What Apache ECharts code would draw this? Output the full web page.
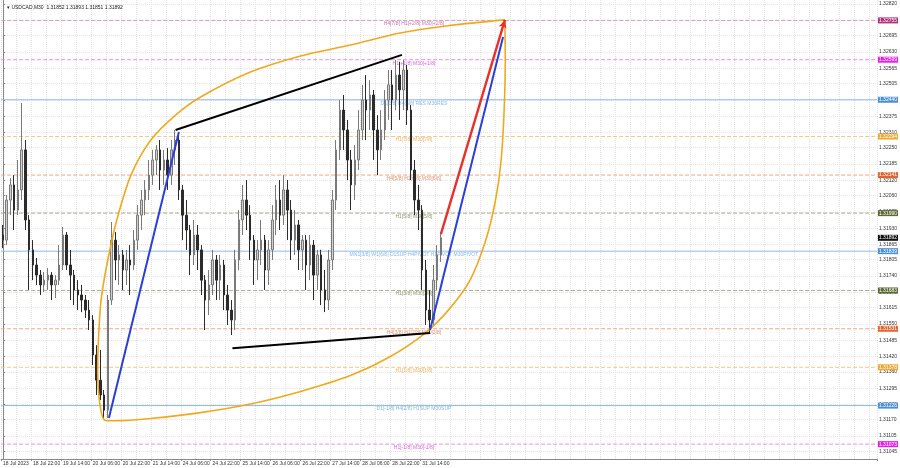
<!DOCTYPE html>
<html><head><meta charset="utf-8">
<script src="https://cdn.jsdelivr.net/npm/echarts@6.0.0/dist/echarts.min.js"></script>
<style>html,body{margin:0;padding:0;background:#fff}#c{width:900px;height:468px}</style>
</head><body><div id="c"></div>
<script>
// ---- data: 2-hour candles, USDCAD 18 Jul 2023 06:00 .. 31 Jul 2023 ----
const candleOpen = [
1.31903,1.31883,1.32042,1.32102,1.32002,1.32082,1.32241,1.31963,1.31844,1.31784,
1.31744,1.31705,1.31724,1.31744,1.31705,1.31724,1.31784,1.31903,1.31784,1.31744,
1.31685,1.31665,1.31645,1.31605,1.31566,1.31427,1.31327,1.31268,1.31208,1.31645,
1.31883,1.31804,1.31824,1.31764,1.31804,1.31784,1.31883,1.31982,1.32042,1.32082,
1.32141,1.32201,1.32241,1.32161,1.32201,1.32141,1.32241,1.32280,1.32082,1.31982,
1.31923,1.31824,1.31903,1.31844,1.31724,1.31645,1.31705,1.31804,1.31724,1.31784,
1.31665,1.31605,1.31566,1.31804,1.31963,1.32042,1.31982,1.31883,1.31804,1.31844,
1.31883,1.31764,1.31844,1.31963,1.32042,1.31982,1.32082,1.32002,1.31883,1.31943,
1.31844,1.31883,1.31784,1.31863,1.31744,1.31824,1.31685,1.31645,1.31804,1.32042,
1.32241,1.32399,1.32320,1.32201,1.32102,1.32201,1.32320,1.32439,1.32399,1.32459,
1.32320,1.32241,1.32320,1.32439,1.32499,1.32439,1.32538,1.32479,1.32558,1.32399,
1.32161,1.32042,1.32002,1.31764,1.31605,1.31566,1.31724,1.31824];
const candleClose = [
1.31883,1.32042,1.32102,1.32002,1.32082,1.32241,1.31963,1.31844,1.31784,1.31744,
1.31705,1.31724,1.31744,1.31705,1.31724,1.31784,1.31903,1.31784,1.31744,1.31685,
1.31665,1.31645,1.31605,1.31566,1.31427,1.31327,1.31268,1.31208,1.31645,1.31883,
1.31804,1.31824,1.31764,1.31804,1.31784,1.31883,1.31982,1.32042,1.32082,1.32141,
1.32201,1.32241,1.32161,1.32201,1.32141,1.32241,1.32280,1.32082,1.31982,1.31923,
1.31824,1.31903,1.31844,1.31724,1.31645,1.31705,1.31804,1.31724,1.31784,1.31665,
1.31605,1.31566,1.31804,1.31963,1.32042,1.31982,1.31883,1.31804,1.31844,1.31883,
1.31764,1.31844,1.31963,1.32042,1.31982,1.32082,1.32002,1.31883,1.31943,1.31844,
1.31883,1.31784,1.31863,1.31744,1.31824,1.31685,1.31645,1.31804,1.32042,1.32241,
1.32399,1.32320,1.32201,1.32102,1.32201,1.32320,1.32439,1.32399,1.32459,1.32320,
1.32241,1.32320,1.32439,1.32499,1.32439,1.32538,1.32479,1.32558,1.32399,1.32161,
1.32042,1.32002,1.31764,1.31605,1.31566,1.31724,1.31824,1.31892];
const candleLow = [
1.31851,1.31863,1.31982,1.31923,1.31982,1.32042,1.31923,1.31685,1.31724,1.31705,
1.31665,1.31677,1.31685,1.31645,1.31653,1.31705,1.31764,1.31764,1.31645,1.31625,
1.31605,1.31597,1.31574,1.31526,1.31387,1.31268,1.31248,1.31169,1.31177,1.31625,
1.31724,1.31705,1.31685,1.31705,1.31665,1.31764,1.31844,1.31923,1.31982,1.32042,
1.32102,1.32141,1.32082,1.32102,1.32082,1.32102,1.32181,1.32042,1.31883,1.31844,
1.31744,1.31784,1.31764,1.31665,1.31526,1.31585,1.31665,1.31645,1.31645,1.31605,
1.31546,1.31506,1.31526,1.31764,1.31903,1.31923,1.31804,1.31705,1.31724,1.31784,
1.31685,1.31705,1.31804,1.31903,1.31923,1.31943,1.31883,1.31804,1.31824,1.31764,
1.31764,1.31685,1.31724,1.31645,1.31685,1.31625,1.31597,1.31605,1.31764,1.32002,
1.32201,1.32241,1.32121,1.32002,1.32042,1.32161,1.32280,1.32280,1.32320,1.32201,
1.32141,1.32201,1.32280,1.32360,1.32320,1.32399,1.32360,1.32399,1.32340,1.32121,
1.31982,1.31923,1.31685,1.31546,1.31514,1.31546,1.31685,1.31796];
const candleHigh = [
1.31943,1.32062,1.32129,1.32141,1.32201,1.32427,1.32280,1.31982,1.31883,1.31812,
1.31764,1.31756,1.31772,1.31756,1.31744,1.31863,1.31935,1.31915,1.31844,1.31764,
1.31724,1.31705,1.31665,1.31645,1.31585,1.31466,1.31447,1.31288,1.31665,1.31955,
1.31915,1.31863,1.31844,1.31844,1.31863,1.31923,1.32022,1.32082,1.32121,1.32201,
1.32241,1.32260,1.32280,1.32241,1.32248,1.32280,1.32320,1.32300,1.32102,1.32042,
1.31943,1.31963,1.31943,1.31863,1.31744,1.31764,1.31844,1.31824,1.31824,1.31804,
1.31705,1.31645,1.31844,1.32002,1.32102,1.32121,1.32022,1.31903,1.31883,1.31963,
1.31903,1.31883,1.32022,1.32102,1.32121,1.32141,1.32121,1.32042,1.32002,1.31963,
1.31903,1.31903,1.31903,1.31883,1.31844,1.31844,1.31764,1.31844,1.32082,1.32280,
1.32439,1.32459,1.32360,1.32241,1.32260,1.32399,1.32499,1.32538,1.32518,1.32479,
1.32379,1.32399,1.32479,1.32558,1.32558,1.32598,1.32590,1.32598,1.32578,1.32419,
1.32201,1.32102,1.32022,1.31804,1.31685,1.31784,1.31863,1.31915];

const xTickLabels = ['18 Jul 2023','18 Jul 22:00','19 Jul 14:00','20 Jul 06:00','20 Jul 22:00','21 Jul 14:00','24 Jul 06:00','24 Jul 22:00','25 Jul 14:00','26 Jul 06:00','26 Jul 22:00','27 Jul 14:00','28 Jul 06:00','28 Jul 22:00','31 Jul 14:00'];
const yTickValues = [1.31045,1.31105,1.31170,1.31230,1.31295,1.31360,1.31420,1.31485,1.31550,1.31615,1.31675,1.31740,1.31805,1.31865,1.31930,1.31995,1.32060,1.32120,1.32185,1.32250,1.32310,1.32375,1.32440,1.32505,1.32565,1.32630,1.32695,1.32755,1.32820];

const levelPrices = [1.32755,1.32599,1.32440,1.32294,1.32141,1.31990,1.31839,1.31683,1.31531,1.31378,1.31226,1.31073];
const levelTexts = ['H4[7/8] H1[+2/8] M30[+2/8]','H1[+1/8] M30[+1/8]','D1[1/8] H4[6/8] RES M30RES','H1[7/8] M30[7/8]','H4[5/8] H1[6/8] M30[6/8]','H1[5/8] M30[5/8]','MN1[3/8] W1[6/8] D1SUP H4PIVOT H1PIVOT M30PIVOT','H1[3/8] M30[3/8]','H4[3/8] H1[2/8] M30[2/8]','H1[1/8] M30[1/8]','D1[-1/8] H4[2/8] H1SUP M30SUP','H1[-1/8] M30[-1/8]'];
const currentPrice = 1.31892;
const titleText = 'USDCAD,M30  1.31852 1.31893 1.31851 1.31892';

// trend lines in (bar index, price)
const trendBlackUpper = [[46.1,1.32320],[106.6,1.32618]];
const trendBlackLower = [[61.3,1.31454],[114.1,1.31514]];
const trendBlueFirst = [[28.3,1.31177],[47.0,1.32312]];
const trendBlueSecond = [[114.1,1.31526],[133.6,1.32689]];
const trendRed = [[117.0,1.31907],[134.1,1.32757]];
const orangeCurve = [[134.1,1.32757],[134.2,1.32598],[133.9,1.32399],[133.1,1.32201],[131.6,1.32042],[129.0,1.31883],[124.8,1.31724],[119.0,1.31605],[112.8,1.31514],[103.4,1.31420],[92.8,1.31345],[79.5,1.31282],[66.1,1.31232],[52.8,1.31198],[39.5,1.31175],[30.0,1.31166],[27.2,1.31168],[25.9,1.31230],[25.3,1.31367],[25.5,1.31486],[26.2,1.31645],[28.0,1.31804],[30.4,1.31963],[34.2,1.32141],[39.5,1.32280],[46.1,1.32379],[52.8,1.32451],[66.1,1.32550],[79.5,1.32614],[92.8,1.32657],[106.1,1.32705],[119.4,1.32735],[134.1,1.32757]];

// ---- layout / styles ----
const TOTAL_SLOTS = 234;
const LABEL_EVERY = 8;
const levelBox = ['#b1307e','#e81ee8','#4a90d9','#f0a830','#e2642e','#5a6b35','#4a90d9','#5a6b35','#e2642e','#f0a830','#4a90d9','#e81ee8'];
const levelTextColor = ['#c2489a','#d23ad2','#6aa6e0','#e6a040','#d8774a','#6f7d48','#6aa6e0','#6f7d48','#d8774a','#e6a040','#6aa6e0','#d23ad2'];
const levelLine = ['#d898c4','#e890e8','#8fbbe6','#f0c888','#eea888','#a8b088','#8fbbe6','#a8b088','#eea888','#f0c888','#8fbbe6','#e890e8'];
const levelSolid = [false,false,true,false,false,false,true,false,false,false,true,false];
const LABEL_SLOT = 109.8;
const X_MIN = -0.5, X_MAX = TOTAL_SLOTS - 0.5;

const categories = [];
for (let i = 0; i < TOTAL_SLOTS; i++) {
  const k = i / LABEL_EVERY;
  categories.push(i % LABEL_EVERY === 0 && k < xTickLabels.length ? xTickLabels[k] : '');
}
const candles = candleOpen.map((o, i) => [o, candleClose[i], candleLow[i], candleHigh[i]]);

const FONT = 'Liberation Sans';
const boxLabel = (txt, bg) => ({show: true, formatter: txt, distance: 1, backgroundColor: bg, color: '#fff', fontSize: 5, padding: [1, 1, 0, 1], fontFamily: FONT, align: 'left', verticalAlign: 'middle'});

const levelSeries = levelPrices.map((p, k) => ({
  type: 'line', xAxisIndex: 1, yAxisIndex: 0, silent: true, z: 3, symbol: 'none',
  data: [[X_MIN, p], [X_MAX, p]],
  lineStyle: {color: levelLine[k], width: 1, type: levelSolid[k] ? 'solid' : [4, 2]},
  endLabel: boxLabel(p.toFixed(5), levelBox[k])
}));
levelSeries.push({
  type: 'line', xAxisIndex: 1, yAxisIndex: 0, silent: true, z: 3, symbol: 'none',
  data: [[X_MIN, currentPrice], [X_MAX, currentPrice]],
  lineStyle: {opacity: 0, width: 0},
  endLabel: boxLabel(currentPrice.toFixed(5), '#111')
});

const chart = echarts.init(document.getElementById('c'), null, {renderer: 'canvas'});
chart.setOption({
  animation: false,
  backgroundColor: '#ffffff',
  textStyle: {fontFamily: FONT},
  title: {text: '\u25BE ' + titleText, left: 2, top: 0, textStyle: {fontSize: 5, fontWeight: 'normal', color: '#222', fontFamily: FONT}},
  grid: {left: 0, right: 22, top: 0, bottom: 9, containLabel: false, show: false},
  xAxis: [{
    type: 'category', data: categories, boundaryGap: true,
    axisLine: {show: true, lineStyle: {color: '#888', width: 1}},
    axisTick: {show: true, length: 2, lineStyle: {color: '#888'}, interval: (i) => i % LABEL_EVERY === 0 && i / LABEL_EVERY < xTickLabels.length},
    axisLabel: {show: true, interval: (i) => i % LABEL_EVERY === 0 && i / LABEL_EVERY < xTickLabels.length, fontSize: 5, color: '#333', align: 'left', margin: 2, fontFamily: FONT},
    splitLine: {show: true, interval: (i) => i % 4 === 0, lineStyle: {color: '#e2e2e2', type: [1, 1], width: 1}}
  }, {
    type: 'value', min: X_MIN, max: X_MAX, show: false
  }],
  yAxis: [{
    type: 'value', position: 'right', min: 1.31014, max: 1.32836, scale: true,
    axisLine: {show: true, lineStyle: {color: '#888', width: 1}},
    axisTick: {show: true, length: 2, customValues: yTickValues, lineStyle: {color: '#888'}},
    axisLabel: {show: true, customValues: yTickValues, formatter: (v) => v.toFixed(5), fontSize: 5, color: '#333', margin: 2, fontFamily: FONT},
    splitLine: {show: true, lineStyle: {color: '#e2e2e2', type: [1, 1], width: 1}}
  }],
  series: levelSeries.concat([
    {
      type: 'scatter', name: 'levelText', xAxisIndex: 1, yAxisIndex: 0, symbolSize: 0, silent: true, z: 3,
      data: levelPrices.map((p, k) => ({
        value: [LABEL_SLOT, p],
        label: {show: true, position: 'bottom', distance: 1, formatter: levelTexts[k], color: levelTextColor[k], fontSize: 5, fontFamily: FONT}
      }))
    },
    {
      type: 'candlestick', name: 'USDCAD', data: candles, z: 4, barWidth: 2,
      itemStyle: {color: '#cfcfcf', color0: '#2b2b2b', borderColor: '#7a7a7a', borderColor0: '#2b2b2b', borderWidth: 1}
    },
    {type: 'line', xAxisIndex: 1, data: orangeCurve, smooth: 0.3, symbol: 'none', silent: true, z: 5, lineStyle: {color: '#f0a91c', width: 1.6}},
    {type: 'line', xAxisIndex: 1, data: trendBlackUpper, symbol: 'none', silent: true, z: 6, lineStyle: {color: '#000', width: 2}},
    {type: 'line', xAxisIndex: 1, data: trendBlackLower, symbol: 'none', silent: true, z: 6, lineStyle: {color: '#000', width: 2}},
    {type: 'line', xAxisIndex: 1, data: trendBlueFirst, symbol: 'none', silent: true, z: 6, lineStyle: {color: '#2b3fd6', width: 2}},
    {type: 'line', xAxisIndex: 1, data: trendBlueSecond, symbol: 'none', silent: true, z: 6, lineStyle: {color: '#2b3fd6', width: 2}},
    {id: 'redArrow', type: 'line', xAxisIndex: 1, data: trendRed, showSymbol: true, showAllSymbol: true,
      symbol: (v, p) => (p.dataIndex === trendRed.length - 1 ? 'arrow' : 'none'),
      symbolSize: [6, 8], symbolRotate: 0, silent: true, z: 7,
      lineStyle: {color: '#e8312a', width: 2.4}, itemStyle: {color: '#e8312a', borderWidth: 0}}
  ])
});
// orient the arrow head along the red line, using the chart's own scales
(function () {
  const a = chart.convertToPixel({xAxisIndex: 1, yAxisIndex: 0}, trendRed[0]);
  const b = chart.convertToPixel({xAxisIndex: 1, yAxisIndex: 0}, trendRed[trendRed.length - 1]);
  const ang = Math.atan2(b[0] - a[0], -(b[1] - a[1])) * 180 / Math.PI;
  chart.setOption({series: [{id: 'redArrow', symbolRotate: -ang}]});
})();
</script></body></html>
